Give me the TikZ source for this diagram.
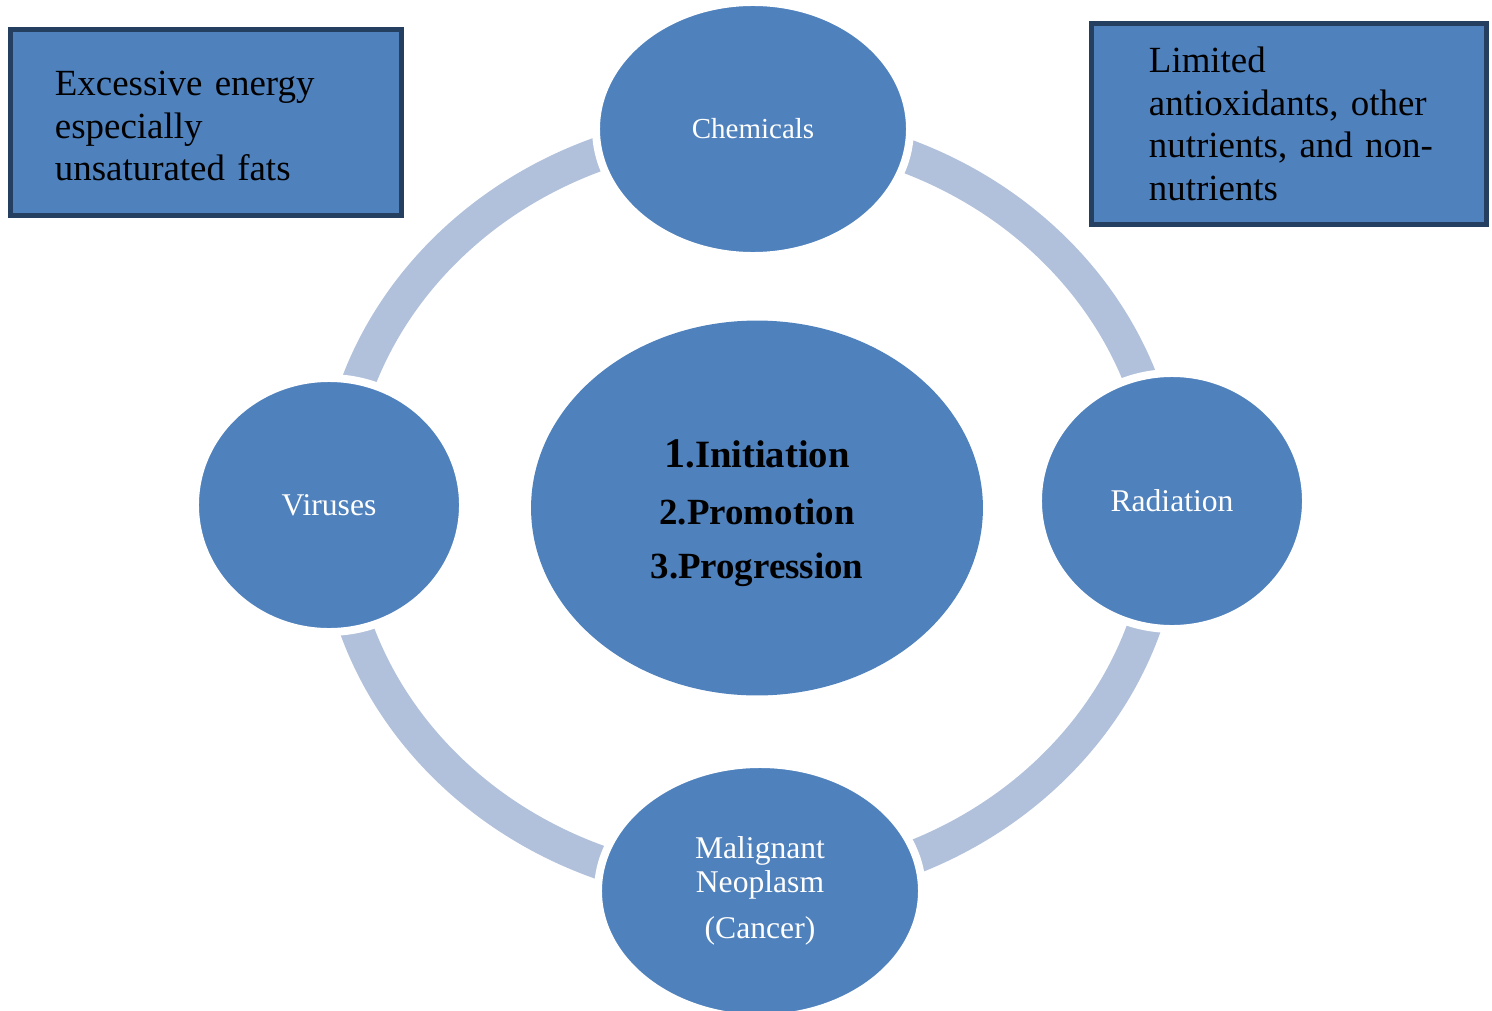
\documentclass[tikz,border=0pt]{standalone}
\usepackage{fontspec}
\setmainfont{Liberation Serif}
\usepackage{xcolor}
\usetikzlibrary{shapes.geometric}

\definecolor{cellblue}{HTML}{4F81BD}
\definecolor{ringblue}{HTML}{B1C1DB}
\definecolor{boxedge}{HTML}{243F60}

\begin{document}
\begin{tikzpicture}[x=0.02cm, y=-0.02cm,
	agent/.style={ellipse, fill=cellblue, draw=white, line width=4.5pt, inner sep=0pt,
		text=white, align=center, font=\fontsize{18}{19.3}\selectfont},
	factor/.style={rectangle, fill=cellblue, draw=boxedge, line width=2.8pt, inner ysep=0pt,
		text=black, align=left, anchor=north west, font=\fontsize{21}{24.4}\selectfont}]
	\useasboundingbox (0,0) rectangle (1492,1011);

	% Ring behind the stages
	\coordinate (hub) at (750,508);
	\draw[ringblue, line width=19.3pt] (hub) ellipse [x radius=415, y radius=380];

	% Causes on the ring
	\node[agent, minimum width=6.28cm, minimum height=5.08cm,
		font=\fontsize{16.5}{19.3}\selectfont] (chem) at (753,129) {Chemicals};
	\node[agent, minimum width=5.36cm, minimum height=5.12cm] (rad) at (1172,501) {Radiation};
	\node[agent, minimum width=5.36cm, minimum height=5.08cm] (virus) at (329,505) {Viruses};
	\node[agent, minimum width=6.48cm, minimum height=5.08cm] (cancer) at (760,891)
		{Malignant\\ Neoplasm\\[6.8pt] (Cancer)};

	% Stages in the middle
	\node[agent, draw=none, minimum width=9.04cm, minimum height=7.5cm, text=black,
		font=\bfseries\fontsize{21}{31}\selectfont] (stages) at (757,508)
		{\rule{0pt}{21.5pt}{\fontsize{22}{31}\selectfont{\fontsize{24}{31}\selectfont 1}.Initiation}\\[1.5pt]
		 2.Promotion\\ 3.Progression};

	% Diet boxes
	\node[factor, inner xsep=0.89cm, text width=6.04cm, minimum height=3.72cm] (energy) at (8,27)
		{\rule{0pt}{18pt}Excessive energy\\ especially\\ unsaturated fats};
	\node[factor, inner xsep=1.15cm, text width=5.6cm, minimum height=4.02cm] (antiox) at (1089,21)
		{Limited\\ \mbox{antioxidants, other}\\ \mbox{nutrients, and non-}\\ nutrients};
\end{tikzpicture}
\end{document}
